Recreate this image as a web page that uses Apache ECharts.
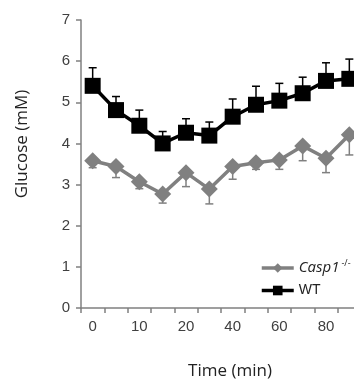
<!DOCTYPE html>
<html><head><meta charset="utf-8">
<script src="https://cdn.jsdelivr.net/npm/echarts@6/dist/echarts.min.js"></script>
<style>html,body{margin:0;padding:0;background:#fff}#c{width:354px;height:381px}</style>
</head><body><div id="c"></div>
<script>
var categories = ['0','5','10','15','20','30','40','50','60','70','80','90'];
var wtMean   = [5.40, 4.81, 4.43, 4.00, 4.26, 4.19, 4.65, 4.94, 5.04, 5.22, 5.52, 5.57];
var wtErr    = [0.44, 0.33, 0.38, 0.29, 0.34, 0.33, 0.43, 0.45, 0.42, 0.39, 0.44, 0.48];
var caspMean = [3.58, 3.44, 3.07, 2.77, 3.29, 2.89, 3.44, 3.53, 3.60, 3.94, 3.64, 4.21];
var caspErr  = [0.17, 0.27, 0.17, 0.22, 0.34, 0.36, 0.31, 0.16, 0.23, 0.36, 0.35, 0.49];
var yTicks = [0, 7, 1];

var GRAY = '#808080';
function errSeries(mean, err, dir, color) {
  var data = mean.map(function (m, i) { return [i, m, m + dir * err[i]]; });
  return {
    type: 'custom', z: 1, silent: true,
    data: data,
    encode: { x: 0, y: [1, 2] },
    renderItem: function (params, api) {
      var x = api.value(0);
      var p0 = api.coord([x, api.value(1)]);
      var p1 = api.coord([x, api.value(2)]);
      var hw = 4;
      return {
        type: 'group',
        children: [
          { type: 'line', shape: { x1: p0[0], y1: p0[1], x2: p1[0], y2: p1[1] }, style: { stroke: color, lineWidth: 1.5 } },
          { type: 'line', shape: { x1: p1[0] - hw, y1: p1[1], x2: p1[0] + hw, y2: p1[1] }, style: { stroke: color, lineWidth: 1.5 } }
        ]
      };
    }
  };
}

var chart = echarts.init(document.getElementById('c'));
chart.setOption({
  animation: false,
  grid: { left: 81, top: 20, bottom: 73, width: 280, outerBoundsMode: 'none', containLabel: false },
  xAxis: {
    type: 'category', data: categories, boundaryGap: true,
    name: 'Time (min)', nameLocation: 'middle', nameGap: 55,
    nameTextStyle: { fontFamily: 'Open Sans', fontSize: 17, color: '#222', padding: [0, 0, 0, 18] },
    axisLine: { lineStyle: { color: GRAY, width: 1.5 } },
    axisTick: { show: true, interval: 0, length: 5, lineStyle: { color: GRAY, width: 1.5 } },
    axisLabel: { interval: 1, margin: 11, fontFamily: 'Liberation Sans', fontSize: 15, color: '#404040' }
  },
  yAxis: {
    type: 'value', min: yTicks[0], max: yTicks[1], interval: yTicks[2],
    name: 'Glucose (mM)', nameLocation: 'middle', nameGap: 50,
    nameTextStyle: { fontFamily: 'Open Sans', fontSize: 17, color: '#222', padding: [0, 0, 0, 40] },
    axisLine: { show: true, lineStyle: { color: GRAY, width: 1.5 } },
    axisTick: { show: true, length: 5, lineStyle: { color: GRAY, width: 1.5 } },
    splitLine: { show: false },
    axisLabel: { margin: 11, fontFamily: 'Liberation Sans', fontSize: 15, color: '#404040' }
  },
  legend: {
    data: ['Casp1', 'WT'], orient: 'vertical', left: 255, top: 254,
    itemWidth: 32, itemHeight: 12, itemGap: 8,
    lineStyle: { width: 3.5 },
    textStyle: {
      fontFamily: 'Liberation Sans', fontSize: 14, color: '#222',
      rich: {
        it: { fontFamily: 'Open Sans', fontStyle: 'italic', fontSize: 15, color: '#222' },
        sup: { fontFamily: 'Open Sans', fontSize: 9, color: '#222', padding: [0, 0, 9, 2] }
      }
    },
    formatter: function (n) { return n === 'Casp1' ? '{it|Casp1}{sup|-/-}' : n; }
  },
  series: [
    errSeries(caspMean, caspErr, -1, GRAY),
    errSeries(wtMean, wtErr, 1, '#000'),
    {
      name: 'Casp1', type: 'line', data: caspMean, z: 3,
      symbol: 'diamond', symbolSize: 17, showAllSymbol: true,
      lineStyle: { color: GRAY, width: 3.5 }, itemStyle: { color: GRAY }
    },
    {
      name: 'WT', type: 'line', data: wtMean, z: 4,
      symbol: 'rect', symbolSize: 16, showAllSymbol: true,
      lineStyle: { color: '#000', width: 3.5 }, itemStyle: { color: '#000' }
    }
  ]
});
</script></body></html>
